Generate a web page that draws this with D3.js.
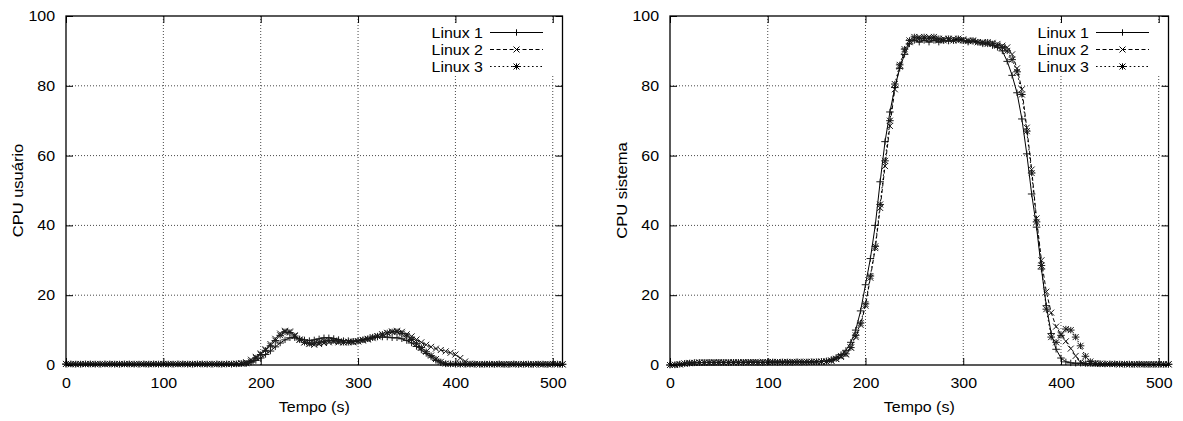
<!DOCTYPE html>
<html>
<head>
<meta charset="utf-8">
<script src="https://cdn.jsdelivr.net/npm/d3@7"></script>
<style>
  body { margin: 0; background: #fff; }
  svg text { font-family: "Liberation Sans", Arial, Helvetica, sans-serif; font-size: 14px; fill: #000; }
</style>
</head>
<body>
<svg id="chart" width="1183" height="421"></svg>
<script>
// Sample instants (s)
const time = [
  0, 5, 10, 15, 20, 25, 30, 35, 40, 45,
  50, 55, 60, 65, 70, 75, 80, 85, 90, 95,
  100, 105, 110, 115, 120, 125, 130, 135, 140, 145,
  150, 155, 160, 165, 170, 175, 180, 185, 190, 195,
  200, 205, 210, 215, 220, 225, 230, 235, 240, 245,
  250, 255, 260, 265, 270, 275, 280, 285, 290, 295,
  300, 305, 310, 315, 320, 325, 330, 335, 340, 345,
  350, 355, 360, 365, 370, 375, 380, 385, 390, 395,
  400, 405, 410, 415, 420, 425, 430, 435, 440, 445,
  450, 455, 460, 465, 470, 475, 480, 485, 490, 495,
  500, 505, 510
];

const seriesNames = ["Linux 1", "Linux 2", "Linux 3"];

// CPU usuário (%)
const userLinux1 = [
  0.2, 0.3, 0.3, 0.2, 0.3, 0.3, 0.3, 0.2, 0.3, 0.3,
  0.3, 0.2, 0.3, 0.3, 0.3, 0.2, 0.3, 0.3, 0.3, 0.2,
  0.3, 0.3, 0.2, 0.3, 0.3, 0.3, 0.2, 0.3, 0.3, 0.3,
  0.2, 0.3, 0.3, 0.3, 0.2, 0.3, 0.4, 0.4, 0.8, 1.3,
  2.0, 3.0, 4.0, 5.2, 6.3, 7.2, 7.8, 7.8, 7.5, 7.2,
  7.0, 7.2, 7.5, 7.8, 7.8, 7.6, 7.3, 7.0, 7.0, 6.8,
  7.0, 7.2, 7.5, 7.8, 8.0, 8.0, 8.0, 7.8, 7.8, 7.5,
  7.0, 6.3, 5.3, 4.3, 3.3, 2.3, 1.3, 0.6, 0.3, 0.3,
  0.2, 0.3, 0.2, 0.3, 0.2, 0.2, 0.3, 0.2, 0.2, 0.3,
  0.2, 0.2, 0.3, 0.2, 0.2, 0.3, 0.2, 0.2, 0.3, 0.2,
  0.2, 0.3, 0.2
];
const userLinux2 = [
  0.3, 0.2, 0.3, 0.3, 0.2, 0.3, 0.3, 0.3, 0.2, 0.3,
  0.3, 0.3, 0.2, 0.3, 0.3, 0.3, 0.2, 0.3, 0.3, 0.2,
  0.3, 0.3, 0.3, 0.2, 0.3, 0.3, 0.3, 0.2, 0.3, 0.3,
  0.3, 0.2, 0.3, 0.3, 0.3, 0.4, 0.5, 0.8, 1.5, 2.3,
  3.3, 4.5, 6.0, 7.5, 9.0, 9.8, 9.6, 8.5, 7.3, 6.5,
  6.0, 5.8, 6.0, 6.3, 6.5, 6.7, 6.5, 6.5, 6.7, 6.5,
  6.8, 7.0, 7.3, 7.7, 8.2, 8.7, 9.2, 9.6, 9.8, 9.5,
  8.8, 8.2, 7.3, 6.5, 5.8, 5.2, 4.7, 4.3, 3.9, 3.5,
  3.0, 2.0, 1.0, 0.4, 0.3, 0.2, 0.3, 0.2, 0.3, 0.2,
  0.2, 0.3, 0.2, 0.2, 0.3, 0.2, 0.2, 0.3, 0.2, 0.2,
  0.3, 0.2, 0.2
];
const userLinux3 = [
  0.3, 0.3, 0.2, 0.3, 0.3, 0.3, 0.2, 0.3, 0.3, 0.3,
  0.2, 0.3, 0.3, 0.3, 0.2, 0.3, 0.3, 0.2, 0.3, 0.3,
  0.3, 0.2, 0.3, 0.3, 0.3, 0.2, 0.3, 0.3, 0.3, 0.2,
  0.3, 0.3, 0.2, 0.3, 0.3, 0.3, 0.4, 0.5, 1.0, 2.0,
  3.0, 4.2, 5.5, 7.0, 8.5, 9.5, 9.3, 8.3, 7.2, 6.5,
  6.2, 6.3, 6.5, 6.8, 7.0, 7.0, 6.8, 6.5, 6.5, 6.7,
  6.8, 7.2, 7.5, 8.0, 8.3, 8.8, 9.2, 9.5, 9.5, 9.0,
  8.3, 7.3, 6.2, 5.0, 3.8, 2.7, 1.7, 0.9, 0.4, 0.3,
  0.3, 0.2, 0.3, 0.2, 0.3, 0.2, 0.2, 0.3, 0.2, 0.3,
  0.2, 0.2, 0.3, 0.2, 0.3, 0.2, 0.2, 0.3, 0.2, 0.2,
  0.3, 0.2, 0.2
];

// CPU sistema (%)
const sysLinux1 = [
  0.0, 0.1, 0.3, 0.5, 0.6, 0.7, 0.7, 0.7, 0.8, 0.7,
  0.7, 0.8, 0.7, 0.8, 0.8, 0.7, 0.8, 0.8, 0.8, 0.7,
  0.8, 0.8, 0.8, 0.9, 0.8, 0.8, 0.9, 0.9, 0.8, 0.9,
  0.9, 1.0, 1.2, 1.6, 2.2, 3.0, 4.2, 6.5, 10.0, 15.5,
  23.0, 30.5, 40.0, 52.5, 64.0, 72.5, 79.5, 85.0, 89.0, 92.0,
  93.0, 92.5, 93.0, 92.5, 93.0, 92.5, 93.0, 92.8, 93.0, 93.2,
  93.0, 92.5, 92.7, 92.5, 92.0, 92.0, 91.5, 91.0, 90.0, 87.0,
  83.0, 78.0, 70.5, 60.5, 49.0, 39.5, 27.5, 17.0, 9.0, 4.5,
  2.0, 0.9, 0.6, 0.5, 0.5, 0.4, 0.4, 0.4, 0.3, 0.3,
  0.3, 0.3, 0.3, 0.2, 0.3, 0.2, 0.2, 0.2, 0.2, 0.2,
  0.2, 0.2, 0.2
];
const sysLinux2 = [
  0.0, 0.1, 0.2, 0.4, 0.6, 0.6, 0.7, 0.7, 0.7, 0.8,
  0.7, 0.7, 0.8, 0.7, 0.8, 0.8, 0.7, 0.8, 0.8, 0.8,
  0.8, 0.8, 0.9, 0.8, 0.8, 0.9, 0.8, 0.9, 0.9, 0.9,
  0.9, 0.9, 1.0, 1.2, 1.7, 2.3, 3.0, 5.0, 8.0, 11.5,
  17.0, 25.0, 33.5, 45.0, 57.0, 68.5, 79.0, 85.5, 90.0, 92.5,
  93.5, 94.0, 93.5, 94.0, 93.5, 93.0, 93.5, 93.2, 93.5, 93.0,
  93.3, 93.0, 92.8, 92.5, 92.5, 92.0, 92.3, 92.0, 91.5, 91.0,
  89.0, 85.0, 79.0, 68.0, 56.0, 42.0, 30.0, 21.0, 15.0, 11.0,
  8.8, 6.8, 4.7, 2.6, 0.8, 0.5, 0.4, 0.4, 0.3, 0.3,
  0.3, 0.3, 0.2, 0.3, 0.2, 0.2, 0.2, 0.2, 0.2, 0.2,
  0.2, 0.2, 0.2
];
const sysLinux3 = [
  0.0, 0.0, 0.2, 0.4, 0.5, 0.6, 0.7, 0.7, 0.7, 0.7,
  0.8, 0.7, 0.7, 0.8, 0.7, 0.8, 0.8, 0.8, 0.7, 0.8,
  0.8, 0.9, 0.8, 0.8, 0.9, 0.8, 0.9, 0.8, 0.9, 0.9,
  0.9, 1.0, 1.0, 1.3, 1.8, 2.6, 3.2, 5.0, 8.5, 12.0,
  17.5, 25.5, 34.0, 46.0, 58.5, 70.0, 80.5, 86.0, 90.5, 93.0,
  94.0, 93.5, 94.0, 93.5, 94.0, 93.5, 93.0, 93.5, 93.0, 93.5,
  93.0, 92.8, 93.0, 92.5, 92.3, 92.5, 92.0, 91.5, 91.0, 90.0,
  87.5, 84.0, 77.5, 67.0, 55.0, 41.0, 28.5, 16.0, 8.0, 6.5,
  8.5, 10.3, 10.0, 8.0, 5.5, 2.5, 1.0, 0.5, 0.4, 0.3,
  0.3, 0.3, 0.2, 0.3, 0.2, 0.2, 0.3, 0.2, 0.2, 0.2,
  0.2, 0.2, 0.2
];

const xTicks = [0, 100, 200, 300, 400, 500];
const yTicks = [0, 20, 40, 60, 80, 100];
const xTitle = "Tempo (s)";

const panels = [
  { yTitle: "CPU usuário", series: [userLinux1, userLinux2, userLinux3],
    left: 66, right: 562.5, titleX: 18, keyRight: 483 },
  { yTitle: "CPU sistema", series: [sysLinux1, sysLinux2, sysLinux3],
    left: 670, right: 1168.5, titleX: 622, keyRight: 1089 }
];

// gnuplot-like line types: solid / dashed / dotted, with + x * points
const dashes = [null, "4,2.5", "1.6,2.6"];
const markers = ["plus", "cross", "star"];
const STRETCH = 1.14;   // text is drawn slightly wide

function markerPath(type) {
  const hx = 3.8, hy = 3.2, a = 3.0;
  const plus = `M${-hx},0H${hx}M0,${-hy}V${hy}`;
  const cross = `M${-a},${-a}L${a},${a}M${-a},${a}L${a},${-a}`;
  if (type === "plus") return plus;
  if (type === "cross") return cross;
  return plus + cross;
}

const svg = d3.select("#chart");
const TOP = 16, BOTTOM = 365, TICK = 7;

panels.forEach(p => {
  const g = svg.append("g");
  const x = d3.scaleLinear().domain([0, 510]).range([p.left, p.right]);
  const y = d3.scaleLinear().domain([0, 100]).range([BOTTOM, TOP]);

  // dotted grid
  const grid = g.append("g").attr("stroke", "#333").attr("stroke-width", 0.9)
    .attr("stroke-dasharray", "1,2").attr("fill", "none");
  xTicks.filter(v => v > 0).forEach(v => {
    grid.append("line").attr("x1", x(v)).attr("x2", x(v)).attr("y1", TOP).attr("y2", BOTTOM);
  });
  yTicks.filter(v => v > 0 && v < 100).forEach(v => {
    grid.append("line").attr("x1", p.left).attr("x2", p.right).attr("y1", y(v)).attr("y2", y(v));
  });

  // series
  const line = d3.line().x(d => x(d[0])).y(d => y(d[1]));
  p.series.forEach((vals, i) => {
    const pts = d3.zip(time, vals);
    g.append("path").datum(pts).attr("d", line)
      .attr("fill", "none").attr("stroke", "#000").attr("stroke-width", 1)
      .attr("stroke-dasharray", dashes[i]);
    g.append("g").selectAll("path").data(pts).join("path")
      .attr("transform", d => `translate(${x(d[0])},${y(d[1])})`)
      .attr("d", markerPath(markers[i]))
      .attr("fill", "none").attr("stroke", "#1a1a1a").attr("stroke-width", 1);
  });

  // opaque key area
  g.append("rect").attr("x", p.keyRight - 58).attr("y", 23)
    .attr("width", 136).attr("height", 52).attr("fill", "#fff");

  // axes with inward ticks on all four sides
  const axB = g.append("g").attr("transform", `translate(0,${BOTTOM})`)
    .call(d3.axisBottom(x).tickValues(xTicks).tickSizeInner(-TICK).tickSizeOuter(0).tickPadding(13));
  const axT = g.append("g").attr("transform", `translate(0,${TOP})`)
    .call(d3.axisTop(x).tickValues(xTicks).tickSizeInner(-TICK).tickSizeOuter(0).tickFormat(""));
  const axL = g.append("g").attr("transform", `translate(${p.left},0)`)
    .call(d3.axisLeft(y).tickValues(yTicks).tickSizeInner(-TICK).tickSizeOuter(0).tickPadding(11));
  const axR = g.append("g").attr("transform", `translate(${p.right},0)`)
    .call(d3.axisRight(y).tickValues(yTicks).tickSizeInner(-TICK).tickSizeOuter(0).tickFormat(""));
  [axB, axT, axL, axR].forEach(a => {
    a.select(".domain").remove();
    a.selectAll(".tick line").attr("stroke", "#000").attr("stroke-width", 1);
    a.selectAll("text").attr("font-size", null).attr("font-family", null).attr("fill", "#000");
  });
  axB.selectAll(".tick text").attr("transform", `scale(${STRETCH},1)`);
  axL.selectAll(".tick text").each(function () {
    const t = d3.select(this);
    t.attr("x", +t.attr("x") / STRETCH).attr("transform", `scale(${STRETCH},1)`);
  });
  axB.attr("font-size", null).attr("font-family", null);
  axL.attr("font-size", null).attr("font-family", null);

  // frame
  g.append("rect").attr("x", p.left).attr("y", TOP)
    .attr("width", p.right - p.left).attr("height", BOTTOM - TOP)
    .attr("fill", "none").attr("stroke", "#000").attr("stroke-width", 1.3);

  // axis titles
  g.append("text")
    .attr("transform", `translate(${(p.left + p.right) / 2},407) scale(${STRETCH},1)`)
    .attr("text-anchor", "middle").attr("dominant-baseline", "central").text(xTitle);
  g.append("text")
    .attr("transform", `translate(${p.titleX},${(TOP + BOTTOM) / 2}) rotate(-90) scale(1.18,1)`)
    .attr("text-anchor", "middle").attr("dominant-baseline", "central").text(p.yTitle);

  // key
  seriesNames.forEach((name, i) => {
    const ky = 32.5 + i * 17;
    g.append("text")
      .attr("transform", `translate(${p.keyRight},${ky}) scale(${STRETCH},1)`)
      .attr("text-anchor", "end").attr("dominant-baseline", "central").text(name);
    const x0 = p.keyRight + 7, x1 = p.keyRight + 60;
    g.append("line").attr("x1", x0).attr("x2", x1).attr("y1", ky).attr("y2", ky)
      .attr("stroke", "#000").attr("stroke-width", 1).attr("stroke-dasharray", dashes[i]);
    g.append("path").attr("transform", `translate(${(x0 + x1) / 2},${ky})`)
      .attr("d", markerPath(markers[i]))
      .attr("fill", "none").attr("stroke", "#000").attr("stroke-width", 1);
  });
});
</script>
</body>
</html>
